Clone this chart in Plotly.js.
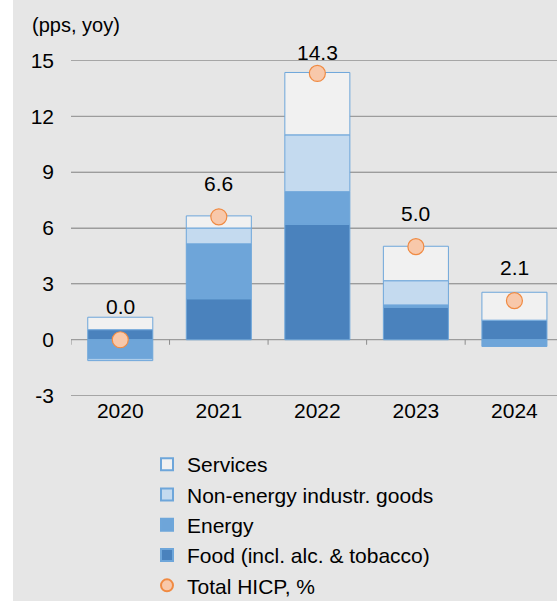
<!DOCTYPE html>
<html>
<head>
<meta charset="utf-8">
<script src="https://cdn.plot.ly/plotly-3.0.1.min.js"></script>
<style>
  html, body { margin: 0; padding: 0; background: #ffffff; overflow: hidden; }
  #chart { position: absolute; left: 13px; top: 0; width: 544px; height: 630px; }
</style>
</head>
<body>
<div id="chart"></div>
<script>
// ---- data ----
const years    = ['2020', '2021', '2022', '2023', '2024'];
const food     = [0.54, 2.2, 6.2, 1.75, 1.05];
const energy   = [-1.02, 2.95, 1.75, 0.12, -0.36];
const neig     = [-0.1, 0.85, 3.05, 1.3, 0.0];
const services = [0.67, 0.65, 3.35, 1.85, 1.5];
const total    = [0.0, 6.6, 14.3, 5.0, 2.1];
const totalLabels = ['0.0', '6.6', '14.3', '5.0', '2.1'];
const yTicks   = [-3, 0, 3, 6, 9, 12, 15];
const yRange   = [-3.02, 15.02];

const FONT = 'Liberation Sans, Arial, sans-serif';
const FS = 21;
const W = 544, H = 630;
const GRID = '#9c9c9c';
const barLine = { color: '#6ea6da', width: 1 };

function barTrace(name, y, color, rank) {
  return {
    type: 'bar', name: name, x: years, y: y, legendgroup: name,
    marker: { color: color, line: barLine },
    legendrank: rank, hoverinfo: 'skip'
  };
}

const traces = [
  barTrace('Food (incl. alc. &amp; tobacco)', food, '#4a82bd', 4),
  barTrace('Energy', energy, '#6ea5d9', 3),
  barTrace('Non-energy industr. goods', neig, '#c4daef', 2),
  barTrace('Services', services, '#f1f1f1', 1),
  {
    type: 'scatter', mode: 'markers', name: 'Total HICP, %', legendgroup: 'total',
    x: years, y: total, legendrank: 5, hoverinfo: 'skip', cliponaxis: false,
    marker: { size: 16, color: '#f8c8aa', line: { color: '#f08a42', width: 1.2 } }
  }
];

const annotations = years.map((yr, i) => ({
  x: i, y: total[i], xref: 'x', yref: 'y',
  text: totalLabels[i], showarrow: false,
  yanchor: 'middle', yshift: total[i] > 13 ? 21 : 33,
  font: { family: FONT, size: FS, color: '#000000' }
}));

// horizontal grid lines at the y tick values (drawn beneath the bars)
const gridShapes = yTicks.map(v => ({
  type: 'line', xref: 'paper', yref: 'y', layer: 'below',
  x0: 0, x1: 1, y0: v, y1: v,
  line: { color: GRID, width: 1 }
}));

// category-boundary tick marks hanging from the zero line
const tickShapes = years.map((yr, i) => ({
  type: 'line', xref: 'x', yref: 'y', layer: 'above',
  x0: i - 0.5, x1: i - 0.5,
  ysizemode: 'pixel', yanchor: 0, y0: 0, y1: -5,
  line: { color: '#8c8c8c', width: 1 }
}));

const xRange = [-0.5, 4.432];
const plotTop = 60, plotBottom = 396, plotLeft = 58;
const legendTop = 444;

const layout = {
  width: W, height: H,
  margin: { l: plotLeft, r: 0, t: plotTop, b: H - plotBottom, pad: 0 },
  paper_bgcolor: '#e6e6e6',
  plot_bgcolor: '#e6e6e6',
  font: { family: FONT, size: FS, color: '#000000' },
  barmode: 'relative',
  bargap: 0.34,
  showlegend: true,
  title: {
    text: '(pps, yoy)', x: 19 / W, xanchor: 'left', xref: 'container',
    y: 1 - 25 / H, yanchor: 'middle', yref: 'container',
    font: { family: FONT, size: 20, color: '#000000' }
  },
  xaxis: {
    type: 'category', categoryorder: 'array', categoryarray: years,
    range: xRange, showgrid: false, zeroline: false, showline: false,
    ticks: '', tickangle: 0,
    tickfont: { family: FONT, size: FS, color: '#000000' },
    fixedrange: true
  },
  yaxis: {
    range: yRange, tickvals: yTicks, ticktext: yTicks.map(String),
    showgrid: true, gridcolor: GRID, gridwidth: 1,
    zeroline: true, zerolinecolor: GRID, zerolinewidth: 1,
    ticklabelstandoff: 16,
    tickfont: { family: FONT, size: FS, color: '#000000' },
    fixedrange: true
  },
  legend: {
    x: (134 - plotLeft) / (W - plotLeft), xanchor: 'left',
    y: -(legendTop - plotBottom) / (plotBottom - plotTop), yanchor: 'top',
    traceorder: 'normal', itemsizing: 'constant', tracegroupgap: 3,
    bgcolor: 'rgba(0,0,0,0)', borderwidth: 0,
    font: { family: FONT, size: FS, color: '#000000' }
  },
  shapes: gridShapes.concat(tickShapes),
  annotations: annotations
};

Plotly.newPlot('chart', traces, layout, { displayModeBar: false, staticPlot: true });
</script>
</body>
</html>
